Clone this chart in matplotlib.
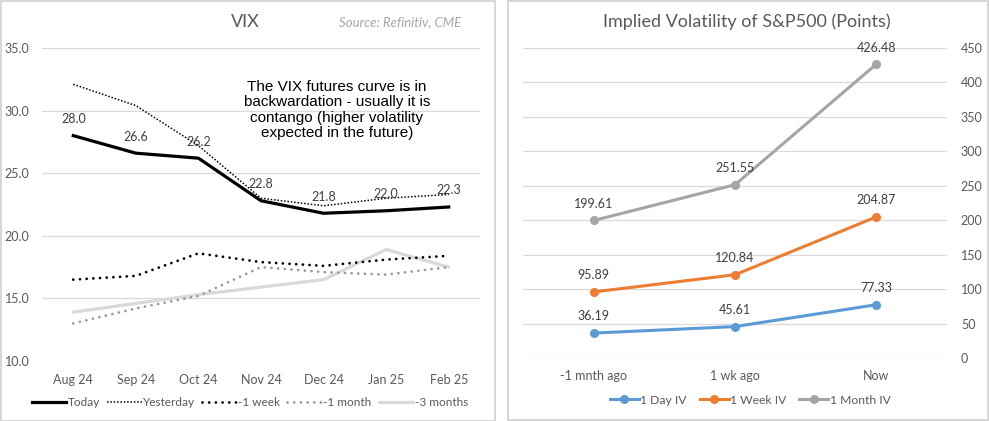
import matplotlib.pyplot as plt
from matplotlib.patches import Rectangle

# VIX futures curve
months = ["Aug 24", "Sep 24", "Oct 24", "Nov 24", "Dec 24", "Jan 25", "Feb 25"]
today = [28.0, 26.6, 26.2, 22.8, 21.8, 22.0, 22.3]
yesterday = [32.1, 30.4, 27.2, 23.0, 22.4, 23.0, 23.3]
week_ago = [16.5, 16.8, 18.6, 17.9, 17.6, 18.1, 18.4]
month_ago = [13.0, 14.2, 15.2, 17.5, 17.1, 16.9, 17.5]
three_months_ago = [13.9, 14.6, 15.3, 15.9, 16.5, 18.9, 17.5]

# S&P500 implied volatility (points)
periods = ["-1 mnth ago", "1 wk ago", "Now"]
day_iv = [36.19, 45.61, 77.33]
week_iv = [95.89, 120.84, 204.87]
month_iv = [199.61, 251.55, 426.48]

FONT = "Lato"
TICK_COLOR = "#595959"
LABEL_COLOR = "#404040"
GRID_COLOR = "#D9D9D9"

plt.rcParams["font.family"] = [FONT, "DejaVu Sans"]

fig = plt.figure(figsize=(9.89, 4.21), dpi=100)
W, H = 989, 421


def fig_rect(x0, y0, x1, y1):
    # pixel box (top-left origin) -> figure fraction [l, b, w, h]
    return [x0 / W, 1 - y1 / H, (x1 - x0) / W, (y1 - y0) / H]


# panel frames
for x0, y0, x1, y1 in [(0.5, 0.5, 495, 420.5), (508, 0.5, 988, 420)]:
    l, b, w, h = fig_rect(x0, y0, x1, y1)
    fig.add_artist(Rectangle((l, b), w, h, transform=fig.transFigure,
                             fill=False, edgecolor="#D0D0D0", linewidth=1.2))


def style_axes(ax):
    for s in ax.spines.values():
        s.set_visible(False)
    ax.grid(axis="y", color=GRID_COLOR, linewidth=0.9)
    ax.set_axisbelow(True)
    ax.tick_params(length=0, colors=TICK_COLOR, labelsize=9)


# ---- left: VIX ----
ax1 = fig.add_axes(fig_rect(42, 48, 480, 361))
style_axes(ax1)
x = range(len(months))
ax1.plot(x, three_months_ago, color="#D9D9D9", linewidth=2.3, solid_capstyle="round", label="-3 months")
ax1.plot(x, month_ago, color="#9A9A9A", linewidth=2.0, linestyle=(0, (0.01, 2.4)),
         dash_capstyle="round", label="-1 month")
ax1.plot(x, week_ago, color="black", linewidth=2.0, linestyle=(0, (0.01, 2.4)),
         dash_capstyle="round", label="-1 week")
ax1.plot(x, yesterday, color="black", linewidth=1.1, linestyle=(0, (1, 1.2)), label="Yesterday")
ax1.plot(x, today, color="black", linewidth=2.3, label="Today")
for i, v in enumerate(today):
    ax1.annotate(f"{v:.1f}", (i, v), xytext=(0, 12), textcoords="offset points",
                 ha="center", va="center", fontsize=9, color=LABEL_COLOR)
ax1.set_xlim(-0.5, len(months) - 0.5)
ax1.set_ylim(10, 35)
ax1.set_yticks([10, 15, 20, 25, 30, 35])
ax1.set_yticklabels([f"{t:.1f}" for t in [10, 15, 20, 25, 30, 35]])
ax1.set_xticks(list(x))
ax1.set_xticklabels(months)
ax1.tick_params(axis="x", pad=9)
ax1.tick_params(axis="y", pad=9)

fig.text(245 / W, 1 - 22 / H, "VIX", ha="center", va="center", fontsize=13, color=TICK_COLOR)
fig.text(461 / W, 1 - 22 / H, "Source: Refinitiv, CME", ha="right", va="center",
         fontsize=9.5, style="italic", color="#A6A6A6")
fig.text(337 / W, 1 - 110 / H,
         "The VIX futures curve is in\nbackwardation - usually it is\n"
         "contango (higher volatility\nexpected in the future)",
         ha="center", va="center", fontsize=11, family="Liberation Sans",
         color="black", linespacing=1.15)

h = {ln.get_label(): ln for ln in ax1.get_lines()}
order = ["Today", "Yesterday", "-1 week", "-1 month", "-3 months"]
fig.legend([h[k] for k in order], order, loc="center", bbox_to_anchor=(250 / W, 1 - 403 / H),
           ncol=5, frameon=False, fontsize=8.5, handlelength=2.9, handletextpad=0.15,
           columnspacing=0.6, labelcolor=TICK_COLOR)

# ---- right: S&P500 implied volatility ----
ax2 = fig.add_axes(fig_rect(523, 48, 947, 358))
style_axes(ax2)
xp = range(len(periods))
series = [("1 Day IV", day_iv, "#5B9BD5"), ("1 Week IV", week_iv, "#ED7D31"),
          ("1 Month IV", month_iv, "#A5A5A5")]
for name, vals, col in series:
    ax2.plot(xp, vals, color=col, linewidth=2.2, marker="o", markersize=5.5, label=name)
    for i, v in enumerate(vals):
        ax2.annotate(f"{v:.2f}", (i, v), xytext=(0, 12), textcoords="offset points",
                     ha="center", va="center", fontsize=9, color=LABEL_COLOR)
ax2.set_xlim(-0.5, len(periods) - 0.5)
ax2.set_ylim(0, 450)
ax2.set_yticks(range(0, 451, 50))
ax2.yaxis.tick_right()
ax2.set_xticks(list(xp))
ax2.set_xticklabels(periods)
ax2.tick_params(axis="x", pad=9)
ax2.tick_params(axis="y", pad=10)

fig.text(747 / W, 1 - 22 / H, "Implied Volatility of S&P500 (Points)", ha="center",
         va="center", fontsize=13, color=TICK_COLOR)
fig.legend(ax2.get_lines(), [s[0] for s in series], loc="center",
           bbox_to_anchor=(750 / W, 1 - 400 / H), ncol=3, frameon=False, fontsize=8.7,
           handlelength=2.4, handletextpad=0.1, columnspacing=1.1, labelcolor=TICK_COLOR)

fig.savefig("out.png", dpi=100)
